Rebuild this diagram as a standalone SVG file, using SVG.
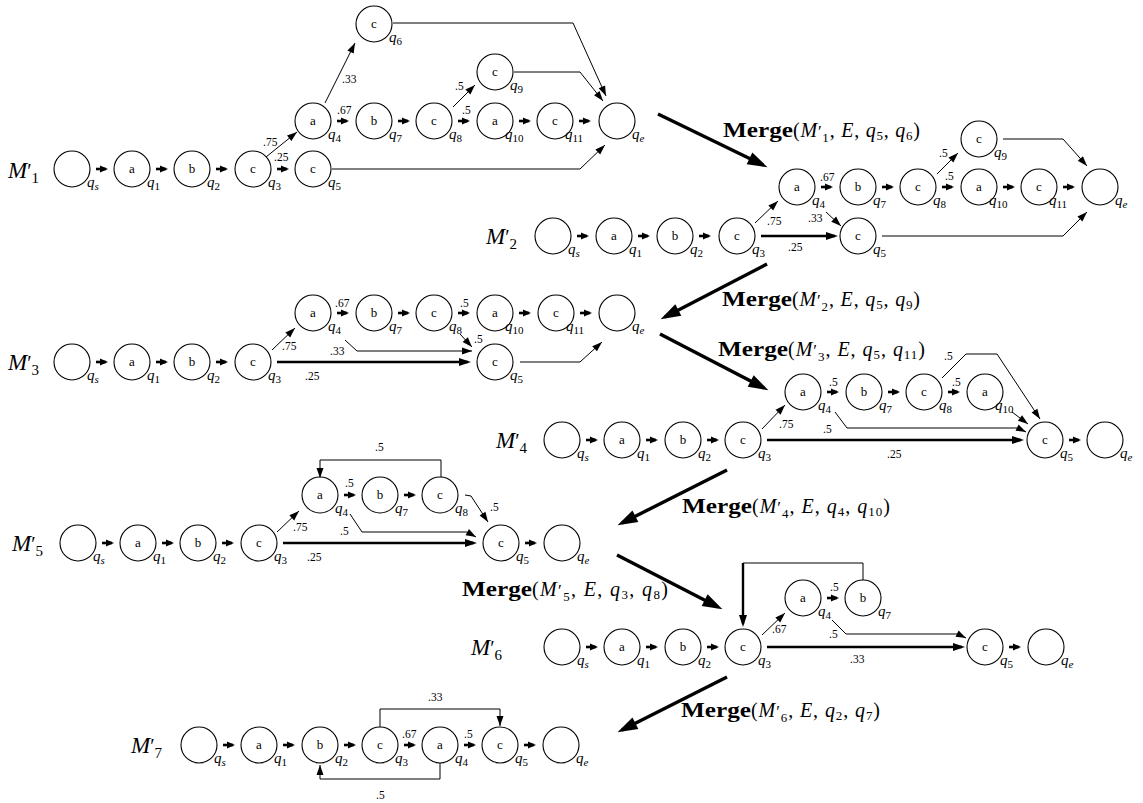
<svg xmlns="http://www.w3.org/2000/svg" xmlns:xlink="http://www.w3.org/1999/xlink" width="1143" height="803" viewBox="0 0 1143 803">
<defs>
<style>
text{font-family:"Liberation Serif","Times New Roman",serif;fill:#000}
.nd circle{fill:#fff;stroke:#000;stroke-width:1.1}
.sym{font-size:13px;text-anchor:middle}
.ql{font-size:15px;font-style:italic}
.qs{font-size:11px;font-style:normal}
.qi{font-size:11px}
.w{font-size:11.5px}
.ml{font-size:23px}
.i{font-style:italic}
.pr{font-size:20px}
.sb{font-size:15px}
.mg{font-size:20px}
.mb{font-weight:bold}
.mpr{font-size:17px}
.msb{font-size:13px}
.e{fill:none;stroke:#000}
.t{stroke-width:1;marker-end:url(#h)}
.s{stroke-width:2.6;marker-end:url(#hs)}
.k{stroke-width:2.4;marker-end:url(#hk)}
.big{stroke-width:3.4;marker-end:url(#hb)}
</style>
<marker id="h" markerUnits="userSpaceOnUse" markerWidth="10" markerHeight="7" refX="10" refY="3.5" orient="auto" overflow="visible"><path d="M0,0 L10,3.5 L0,7 z"/></marker>
<marker id="hs" markerUnits="userSpaceOnUse" markerWidth="8" markerHeight="7" refX="6" refY="3.5" orient="auto" overflow="visible"><path d="M0,0 L8,3.5 L0,7 z"/></marker>
<marker id="hk" markerUnits="userSpaceOnUse" markerWidth="12" markerHeight="8" refX="9" refY="4" orient="auto" overflow="visible"><path d="M0,0 L12,4 L0,8 z"/></marker>
<marker id="hb" markerUnits="userSpaceOnUse" markerWidth="20" markerHeight="13" refX="15" refY="6.5" orient="auto" overflow="visible"><path d="M0,0 L20,6.5 L0,13 z"/></marker>
<!-- short transition between neighbouring states -->
<path id="sa" class="e s" d="M0,0H10"/>
</defs>
<rect width="1143" height="803" fill="#fff"/>

<!-- model labels -->
<g id="model-labels">
<text class="ml" x="8" y="178"><tspan class="i">M</tspan><tspan class="pr">′</tspan><tspan class="sb" dy="5">1</tspan></text>
<text class="ml" x="486" y="244"><tspan class="i">M</tspan><tspan class="pr">′</tspan><tspan class="sb" dy="5">2</tspan></text>
<text class="ml" x="8" y="370"><tspan class="i">M</tspan><tspan class="pr">′</tspan><tspan class="sb" dy="5">3</tspan></text>
<text class="ml" x="496" y="448"><tspan class="i">M</tspan><tspan class="pr">′</tspan><tspan class="sb" dy="5">4</tspan></text>
<text class="ml" x="12" y="551"><tspan class="i">M</tspan><tspan class="pr">′</tspan><tspan class="sb" dy="5">5</tspan></text>
<text class="ml" x="471" y="655"><tspan class="i">M</tspan><tspan class="pr">′</tspan><tspan class="sb" dy="5">6</tspan></text>
<text class="ml" x="131" y="753"><tspan class="i">M</tspan><tspan class="pr">′</tspan><tspan class="sb" dy="5">7</tspan></text>
</g>

<!-- connectors -->
<g id="connectors">
<!-- M1' -->
<use xlink:href="#sa" x="96" y="169"/><use xlink:href="#sa" x="156" y="169"/><use xlink:href="#sa" x="216" y="169"/><use xlink:href="#sa" x="277" y="169"/>
<use xlink:href="#sa" x="337" y="121"/><use xlink:href="#sa" x="398" y="121"/><use xlink:href="#sa" x="458" y="121"/><use xlink:href="#sa" x="519" y="121"/><use xlink:href="#sa" x="579" y="121"/>
<path class="e t" d="M266,157L297,132"/>
<path class="e t" d="M325,103L355,43"/>
<path class="e t" d="M453,107L475,85"/>
<path class="e t" d="M393,23H573L606,96"/>
<path class="e t" d="M514,72H580L603,101"/>
<path class="e t" d="M332,169H580L605,145"/>
<text class="w" x="263" y="146">.75</text>
<text class="w" x="274" y="161">.25</text>
<text class="w" x="342" y="83">.33</text>
<text class="w" x="337" y="114">.67</text>
<text class="w" x="455" y="90">.5</text>
<text class="w" x="462" y="114">.5</text>
<!-- M2' -->
<use xlink:href="#sa" x="577" y="236"/><use xlink:href="#sa" x="638" y="236"/><use xlink:href="#sa" x="699" y="236"/>
<use xlink:href="#sa" x="821" y="187"/><use xlink:href="#sa" x="882" y="187"/><use xlink:href="#sa" x="942" y="187"/><use xlink:href="#sa" x="1003" y="187"/><use xlink:href="#sa" x="1063" y="187"/>
<path class="e k" d="M761,236H835"/>
<path class="e t" d="M755,223L778,201"/>
<path class="e t" d="M826,212L841,226"/>
<path class="e t" d="M937,174L958,153"/>
<path class="e t" d="M1003,139H1063L1087,166"/>
<path class="e t" d="M882,236H1063L1087,212"/>
<text class="w" x="767" y="225">.75</text>
<text class="w" x="788" y="251">.25</text>
<text class="w" x="808" y="222">.33</text>
<text class="w" x="820" y="181">.67</text>
<text class="w" x="939" y="157">.5</text>
<text class="w" x="945" y="180">.5</text>
<!-- M3' -->
<use xlink:href="#sa" x="96" y="362"/><use xlink:href="#sa" x="156" y="362"/><use xlink:href="#sa" x="216" y="362"/>
<use xlink:href="#sa" x="337" y="313"/><use xlink:href="#sa" x="398" y="313"/><use xlink:href="#sa" x="458" y="313"/><use xlink:href="#sa" x="519" y="313"/><use xlink:href="#sa" x="580" y="313"/>
<path class="e t" d="M272,350L295,328"/>
<path class="e k" d="M277,362H468"/>
<path class="e t" d="M345,340L357,351H472"/>
<path class="e t" d="M460,334L472,347"/>
<path class="e t" d="M520,362H580L602,342"/>
<text class="w" x="282" y="350">.75</text>
<text class="w" x="305" y="380">.25</text>
<text class="w" x="330" y="355">.33</text>
<text class="w" x="335" y="307">.67</text>
<text class="w" x="460" y="307">.5</text>
<text class="w" x="474" y="343">.5</text>
<!-- M4' -->
<use xlink:href="#sa" x="586" y="440"/><use xlink:href="#sa" x="646" y="440"/><use xlink:href="#sa" x="707" y="440"/><use xlink:href="#sa" x="1069" y="440"/>
<use xlink:href="#sa" x="827" y="392"/><use xlink:href="#sa" x="888" y="392"/><use xlink:href="#sa" x="948" y="392"/>
<path class="e t" d="M762,429L785,405"/>
<path class="e k" d="M767,440H1021"/>
<path class="e t" d="M835,412L847,428H1018L1026,432"/>
<path class="e t" d="M942,378L966,354H997L1040,419"/>
<path class="e t" d="M1012,412L1028,424"/>
<text class="w" x="779" y="428">.75</text>
<text class="w" x="823" y="433">.5</text>
<text class="w" x="887" y="458">.25</text>
<text class="w" x="829" y="386">.5</text>
<text class="w" x="952" y="386">.5</text>
<text class="w" x="944" y="360">.5</text>
<!-- M5' -->
<use xlink:href="#sa" x="102" y="543"/><use xlink:href="#sa" x="162" y="543"/><use xlink:href="#sa" x="222" y="543"/><use xlink:href="#sa" x="525" y="543"/>
<use xlink:href="#sa" x="344" y="495"/><use xlink:href="#sa" x="404" y="495"/>
<path class="e t" d="M277,532L299,511"/>
<path class="e k" d="M283,543H474"/>
<path class="e t" d="M350,514L362,532H467L476,537"/>
<path class="e t" d="M441,477V460H320V478"/>
<path class="e t" d="M465,495L471,496L488,522"/>
<text class="w" x="293" y="531">.75</text>
<text class="w" x="307" y="561">.25</text>
<text class="w" x="340" y="535">.5</text>
<text class="w" x="345" y="487">.5</text>
<text class="w" x="375" y="451">.5</text>
<text class="w" x="490" y="511">.5</text>
<!-- M6' -->
<use xlink:href="#sa" x="586" y="647"/><use xlink:href="#sa" x="646" y="647"/><use xlink:href="#sa" x="707" y="647"/><use xlink:href="#sa" x="1009" y="647"/>
<use xlink:href="#sa" x="827" y="598"/>
<path class="e t" d="M762,635L785,613"/>
<path class="e k" d="M767,647H962"/>
<path class="e t" d="M832,620L846,634H958L966,638"/>
<path class="e" stroke-width="1" d="M863,580V563H743"/>
<path class="e k" d="M743,563V624"/>
<text class="w" x="772" y="633">.67</text>
<text class="w" x="830" y="591">.5</text>
<text class="w" x="829" y="638">.5</text>
<text class="w" x="850" y="663">.33</text>
<!-- M7' -->
<use xlink:href="#sa" x="223" y="745"/><use xlink:href="#sa" x="283" y="745"/><use xlink:href="#sa" x="344" y="745"/><use xlink:href="#sa" x="404" y="745"/><use xlink:href="#sa" x="464" y="745"/><use xlink:href="#sa" x="524" y="745"/>
<path class="e t" d="M380,727V709H500V726"/>
<path class="e t" d="M440,763V779H320V765"/>
<text class="w" x="428" y="701">.33</text>
<text class="w" x="376" y="799">.5</text>
<text class="w" x="402" y="738">.67</text>
<text class="w" x="464" y="738">.5</text>
</g>

<!-- merge steps -->
<g id="merge-steps">
<path class="e big" d="M658,114L763,165"/>
<path class="e big" d="M767,264L665,317"/>
<path class="e big" d="M660,334L764,388"/>
<path class="e big" d="M727,470L622,523"/>
<path class="e big" d="M617,555L718,607"/>
<path class="e big" d="M727,677L622,730"/>
<text class="mg mb" x="723" y="137" textLength="70" lengthAdjust="spacingAndGlyphs">Merge</text>
<text class="mg" x="793" y="137" textLength="127" lengthAdjust="spacing">(<tspan class="i">M</tspan><tspan class="mpr">′</tspan><tspan class="msb" dy="5">1</tspan><tspan dy="-5">, </tspan><tspan class="i">E</tspan>, <tspan class="i">q</tspan><tspan class="msb" dy="3">5</tspan><tspan dy="-3">, </tspan><tspan class="i">q</tspan><tspan class="msb" dy="3">6</tspan><tspan dy="-3">)</tspan></text>
<text class="mg mb" x="722" y="306" textLength="70" lengthAdjust="spacingAndGlyphs">Merge</text>
<text class="mg" x="792" y="306" textLength="128" lengthAdjust="spacing">(<tspan class="i">M</tspan><tspan class="mpr">′</tspan><tspan class="msb" dy="5">2</tspan><tspan dy="-5">, </tspan><tspan class="i">E</tspan>, <tspan class="i">q</tspan><tspan class="msb" dy="3">5</tspan><tspan dy="-3">, </tspan><tspan class="i">q</tspan><tspan class="msb" dy="3">9</tspan><tspan dy="-3">)</tspan></text>
<text class="mg mb" x="718" y="356" textLength="70" lengthAdjust="spacingAndGlyphs">Merge</text>
<text class="mg" x="788" y="356" textLength="137" lengthAdjust="spacing">(<tspan class="i">M</tspan><tspan class="mpr">′</tspan><tspan class="msb" dy="5">3</tspan><tspan dy="-5">, </tspan><tspan class="i">E</tspan>, <tspan class="i">q</tspan><tspan class="msb" dy="3">5</tspan><tspan dy="-3">, </tspan><tspan class="i">q</tspan><tspan class="msb" dy="3">11</tspan><tspan dy="-3">)</tspan></text>
<text class="mg mb" x="682" y="513" textLength="70" lengthAdjust="spacingAndGlyphs">Merge</text>
<text class="mg" x="752" y="513" textLength="138" lengthAdjust="spacing">(<tspan class="i">M</tspan><tspan class="mpr">′</tspan><tspan class="msb" dy="5">4</tspan><tspan dy="-5">, </tspan><tspan class="i">E</tspan>, <tspan class="i">q</tspan><tspan class="msb" dy="3">4</tspan><tspan dy="-3">, </tspan><tspan class="i">q</tspan><tspan class="msb" dy="3">10</tspan><tspan dy="-3">)</tspan></text>
<text class="mg mb" x="462" y="596" textLength="70" lengthAdjust="spacingAndGlyphs">Merge</text>
<text class="mg" x="532" y="596" textLength="136" lengthAdjust="spacing">(<tspan class="i">M</tspan><tspan class="mpr">′</tspan><tspan class="msb" dy="5">5</tspan><tspan dy="-5">, </tspan><tspan class="i">E</tspan>, <tspan class="i">q</tspan><tspan class="msb" dy="3">3</tspan><tspan dy="-3">, </tspan><tspan class="i">q</tspan><tspan class="msb" dy="3">8</tspan><tspan dy="-3">)</tspan></text>
<text class="mg mb" x="681" y="717" textLength="70" lengthAdjust="spacingAndGlyphs">Merge</text>
<text class="mg" x="751" y="717" textLength="129" lengthAdjust="spacing">(<tspan class="i">M</tspan><tspan class="mpr">′</tspan><tspan class="msb" dy="5">6</tspan><tspan dy="-5">, </tspan><tspan class="i">E</tspan>, <tspan class="i">q</tspan><tspan class="msb" dy="3">2</tspan><tspan dy="-3">, </tspan><tspan class="i">q</tspan><tspan class="msb" dy="3">7</tspan><tspan dy="-3">)</tspan></text>
</g>

<!-- M1' states -->
<g class="nd" id="m1-qs"><circle cx="72" cy="169" r="18"/><text class="ql" x="87" y="187">q<tspan class="qi" dy="3">s</tspan></text></g>
<g class="nd" id="m1-q1"><circle cx="132" cy="169" r="18"/><text class="sym" x="132" y="173">a</text><text class="ql" x="147" y="187">q<tspan class="qs" dy="3">1</tspan></text></g>
<g class="nd" id="m1-q2"><circle cx="192" cy="169" r="18"/><text class="sym" x="192" y="173">b</text><text class="ql" x="207" y="187">q<tspan class="qs" dy="3">2</tspan></text></g>
<g class="nd" id="m1-q3"><circle cx="253" cy="169" r="18"/><text class="sym" x="253" y="173">c</text><text class="ql" x="268" y="187">q<tspan class="qs" dy="3">3</tspan></text></g>
<g class="nd" id="m1-q5"><circle cx="313" cy="169" r="18"/><text class="sym" x="313" y="173">c</text><text class="ql" x="328" y="187">q<tspan class="qs" dy="3">5</tspan></text></g>
<g class="nd" id="m1-q4"><circle cx="313" cy="121" r="18"/><text class="sym" x="313" y="125">a</text><text class="ql" x="328" y="139">q<tspan class="qs" dy="3">4</tspan></text></g>
<g class="nd" id="m1-q7"><circle cx="374" cy="121" r="18"/><text class="sym" x="374" y="125">b</text><text class="ql" x="389" y="139">q<tspan class="qs" dy="3">7</tspan></text></g>
<g class="nd" id="m1-q8"><circle cx="434" cy="121" r="18"/><text class="sym" x="434" y="125">c</text><text class="ql" x="449" y="139">q<tspan class="qs" dy="3">8</tspan></text></g>
<g class="nd" id="m1-q10"><circle cx="495" cy="121" r="18"/><text class="sym" x="495" y="125">a</text><text class="ql" x="505" y="139">q<tspan class="qs" dy="3">10</tspan></text></g>
<g class="nd" id="m1-q11"><circle cx="555" cy="121" r="18"/><text class="sym" x="555" y="125">c</text><text class="ql" x="565" y="139">q<tspan class="qs" dy="3">11</tspan></text></g>
<g class="nd" id="m1-qe"><circle cx="617" cy="121" r="18"/><text class="ql" x="632" y="139">q<tspan class="qi" dy="3">e</tspan></text></g>
<g class="nd" id="m1-q6"><circle cx="374" cy="24" r="18"/><text class="sym" x="374" y="28">c</text><text class="ql" x="389" y="42">q<tspan class="qs" dy="3">6</tspan></text></g>
<g class="nd" id="m1-q9"><circle cx="495" cy="72" r="18"/><text class="sym" x="495" y="76">c</text><text class="ql" x="510" y="90">q<tspan class="qs" dy="3">9</tspan></text></g>

<!-- M2' states -->
<g class="nd" id="m2-qs"><circle cx="553" cy="236" r="18"/><text class="ql" x="568" y="254">q<tspan class="qi" dy="3">s</tspan></text></g>
<g class="nd" id="m2-q1"><circle cx="614" cy="236" r="18"/><text class="sym" x="614" y="240">a</text><text class="ql" x="629" y="254">q<tspan class="qs" dy="3">1</tspan></text></g>
<g class="nd" id="m2-q2"><circle cx="675" cy="236" r="18"/><text class="sym" x="675" y="240">b</text><text class="ql" x="690" y="254">q<tspan class="qs" dy="3">2</tspan></text></g>
<g class="nd" id="m2-q3"><circle cx="737" cy="236" r="18"/><text class="sym" x="737" y="240">c</text><text class="ql" x="752" y="254">q<tspan class="qs" dy="3">3</tspan></text></g>
<g class="nd" id="m2-q5"><circle cx="858" cy="236" r="18"/><text class="sym" x="858" y="240">c</text><text class="ql" x="873" y="254">q<tspan class="qs" dy="3">5</tspan></text></g>
<g class="nd" id="m2-q4"><circle cx="797" cy="187" r="18"/><text class="sym" x="797" y="191">a</text><text class="ql" x="812" y="205">q<tspan class="qs" dy="3">4</tspan></text></g>
<g class="nd" id="m2-q7"><circle cx="858" cy="187" r="18"/><text class="sym" x="858" y="191">b</text><text class="ql" x="873" y="205">q<tspan class="qs" dy="3">7</tspan></text></g>
<g class="nd" id="m2-q8"><circle cx="918" cy="187" r="18"/><text class="sym" x="918" y="191">c</text><text class="ql" x="933" y="205">q<tspan class="qs" dy="3">8</tspan></text></g>
<g class="nd" id="m2-q10"><circle cx="979" cy="187" r="18"/><text class="sym" x="979" y="191">a</text><text class="ql" x="989" y="205">q<tspan class="qs" dy="3">10</tspan></text></g>
<g class="nd" id="m2-q11"><circle cx="1039" cy="187" r="18"/><text class="sym" x="1039" y="191">c</text><text class="ql" x="1049" y="205">q<tspan class="qs" dy="3">11</tspan></text></g>
<g class="nd" id="m2-qe"><circle cx="1100" cy="187" r="18"/><text class="ql" x="1115" y="205">q<tspan class="qi" dy="3">e</tspan></text></g>
<g class="nd" id="m2-q9"><circle cx="979" cy="139" r="18"/><text class="sym" x="979" y="143">c</text><text class="ql" x="994" y="157">q<tspan class="qs" dy="3">9</tspan></text></g>

<!-- M3' states -->
<g class="nd" id="m3-qs"><circle cx="72" cy="362" r="18"/><text class="ql" x="87" y="380">q<tspan class="qi" dy="3">s</tspan></text></g>
<g class="nd" id="m3-q1"><circle cx="132" cy="362" r="18"/><text class="sym" x="132" y="366">a</text><text class="ql" x="147" y="380">q<tspan class="qs" dy="3">1</tspan></text></g>
<g class="nd" id="m3-q2"><circle cx="192" cy="362" r="18"/><text class="sym" x="192" y="366">b</text><text class="ql" x="207" y="380">q<tspan class="qs" dy="3">2</tspan></text></g>
<g class="nd" id="m3-q3"><circle cx="253" cy="362" r="18"/><text class="sym" x="253" y="366">c</text><text class="ql" x="268" y="380">q<tspan class="qs" dy="3">3</tspan></text></g>
<g class="nd" id="m3-q5"><circle cx="495" cy="362" r="18"/><text class="sym" x="495" y="366">c</text><text class="ql" x="510" y="380">q<tspan class="qs" dy="3">5</tspan></text></g>
<g class="nd" id="m3-q4"><circle cx="313" cy="313" r="18"/><text class="sym" x="313" y="317">a</text><text class="ql" x="328" y="331">q<tspan class="qs" dy="3">4</tspan></text></g>
<g class="nd" id="m3-q7"><circle cx="374" cy="313" r="18"/><text class="sym" x="374" y="317">b</text><text class="ql" x="389" y="331">q<tspan class="qs" dy="3">7</tspan></text></g>
<g class="nd" id="m3-q8"><circle cx="434" cy="313" r="18"/><text class="sym" x="434" y="317">c</text><text class="ql" x="449" y="331">q<tspan class="qs" dy="3">8</tspan></text></g>
<g class="nd" id="m3-q10"><circle cx="495" cy="313" r="18"/><text class="sym" x="495" y="317">a</text><text class="ql" x="505" y="331">q<tspan class="qs" dy="3">10</tspan></text></g>
<g class="nd" id="m3-q11"><circle cx="556" cy="313" r="18"/><text class="sym" x="556" y="317">c</text><text class="ql" x="566" y="331">q<tspan class="qs" dy="3">11</tspan></text></g>
<g class="nd" id="m3-qe"><circle cx="617" cy="313" r="18"/><text class="ql" x="632" y="331">q<tspan class="qi" dy="3">e</tspan></text></g>

<!-- M4' states -->
<g class="nd" id="m4-qs"><circle cx="562" cy="440" r="18"/><text class="ql" x="577" y="458">q<tspan class="qi" dy="3">s</tspan></text></g>
<g class="nd" id="m4-q1"><circle cx="622" cy="440" r="18"/><text class="sym" x="622" y="444">a</text><text class="ql" x="637" y="458">q<tspan class="qs" dy="3">1</tspan></text></g>
<g class="nd" id="m4-q2"><circle cx="683" cy="440" r="18"/><text class="sym" x="683" y="444">b</text><text class="ql" x="698" y="458">q<tspan class="qs" dy="3">2</tspan></text></g>
<g class="nd" id="m4-q3"><circle cx="743" cy="440" r="18"/><text class="sym" x="743" y="444">c</text><text class="ql" x="758" y="458">q<tspan class="qs" dy="3">3</tspan></text></g>
<g class="nd" id="m4-q5"><circle cx="1045" cy="440" r="18"/><text class="sym" x="1045" y="444">c</text><text class="ql" x="1060" y="458">q<tspan class="qs" dy="3">5</tspan></text></g>
<g class="nd" id="m4-qe"><circle cx="1105" cy="440" r="18"/><text class="ql" x="1120" y="458">q<tspan class="qi" dy="3">e</tspan></text></g>
<g class="nd" id="m4-q4"><circle cx="803" cy="392" r="18"/><text class="sym" x="803" y="396">a</text><text class="ql" x="818" y="410">q<tspan class="qs" dy="3">4</tspan></text></g>
<g class="nd" id="m4-q7"><circle cx="864" cy="392" r="18"/><text class="sym" x="864" y="396">b</text><text class="ql" x="879" y="410">q<tspan class="qs" dy="3">7</tspan></text></g>
<g class="nd" id="m4-q8"><circle cx="924" cy="392" r="18"/><text class="sym" x="924" y="396">c</text><text class="ql" x="939" y="410">q<tspan class="qs" dy="3">8</tspan></text></g>
<g class="nd" id="m4-q10"><circle cx="985" cy="392" r="18"/><text class="sym" x="985" y="396">a</text><text class="ql" x="995" y="410">q<tspan class="qs" dy="3">10</tspan></text></g>

<!-- M5' states -->
<g class="nd" id="m5-qs"><circle cx="78" cy="543" r="18"/><text class="ql" x="93" y="561">q<tspan class="qi" dy="3">s</tspan></text></g>
<g class="nd" id="m5-q1"><circle cx="138" cy="543" r="18"/><text class="sym" x="138" y="547">a</text><text class="ql" x="153" y="561">q<tspan class="qs" dy="3">1</tspan></text></g>
<g class="nd" id="m5-q2"><circle cx="198" cy="543" r="18"/><text class="sym" x="198" y="547">b</text><text class="ql" x="213" y="561">q<tspan class="qs" dy="3">2</tspan></text></g>
<g class="nd" id="m5-q3"><circle cx="259" cy="543" r="18"/><text class="sym" x="259" y="547">c</text><text class="ql" x="274" y="561">q<tspan class="qs" dy="3">3</tspan></text></g>
<g class="nd" id="m5-q4"><circle cx="320" cy="495" r="18"/><text class="sym" x="320" y="499">a</text><text class="ql" x="335" y="513">q<tspan class="qs" dy="3">4</tspan></text></g>
<g class="nd" id="m5-q7"><circle cx="380" cy="495" r="18"/><text class="sym" x="380" y="499">b</text><text class="ql" x="395" y="513">q<tspan class="qs" dy="3">7</tspan></text></g>
<g class="nd" id="m5-q8"><circle cx="440" cy="495" r="18"/><text class="sym" x="440" y="499">c</text><text class="ql" x="455" y="513">q<tspan class="qs" dy="3">8</tspan></text></g>
<g class="nd" id="m5-q5"><circle cx="501" cy="543" r="18"/><text class="sym" x="501" y="547">c</text><text class="ql" x="516" y="561">q<tspan class="qs" dy="3">5</tspan></text></g>
<g class="nd" id="m5-qe"><circle cx="562" cy="543" r="18"/><text class="ql" x="577" y="561">q<tspan class="qi" dy="3">e</tspan></text></g>

<!-- M6' states -->
<g class="nd" id="m6-qs"><circle cx="562" cy="647" r="18"/><text class="ql" x="577" y="665">q<tspan class="qi" dy="3">s</tspan></text></g>
<g class="nd" id="m6-q1"><circle cx="622" cy="647" r="18"/><text class="sym" x="622" y="651">a</text><text class="ql" x="637" y="665">q<tspan class="qs" dy="3">1</tspan></text></g>
<g class="nd" id="m6-q2"><circle cx="683" cy="647" r="18"/><text class="sym" x="683" y="651">b</text><text class="ql" x="698" y="665">q<tspan class="qs" dy="3">2</tspan></text></g>
<g class="nd" id="m6-q3"><circle cx="743" cy="647" r="18"/><text class="sym" x="743" y="651">c</text><text class="ql" x="758" y="665">q<tspan class="qs" dy="3">3</tspan></text></g>
<g class="nd" id="m6-q4"><circle cx="803" cy="598" r="18"/><text class="sym" x="803" y="602">a</text><text class="ql" x="818" y="616">q<tspan class="qs" dy="3">4</tspan></text></g>
<g class="nd" id="m6-q7"><circle cx="863" cy="598" r="18"/><text class="sym" x="863" y="602">b</text><text class="ql" x="878" y="616">q<tspan class="qs" dy="3">7</tspan></text></g>
<g class="nd" id="m6-q5"><circle cx="985" cy="647" r="18"/><text class="sym" x="985" y="651">c</text><text class="ql" x="1000" y="665">q<tspan class="qs" dy="3">5</tspan></text></g>
<g class="nd" id="m6-qe"><circle cx="1046" cy="647" r="18"/><text class="ql" x="1061" y="665">q<tspan class="qi" dy="3">e</tspan></text></g>

<!-- M7' states -->
<g class="nd" id="m7-qs"><circle cx="199" cy="745" r="18"/><text class="ql" x="214" y="763">q<tspan class="qi" dy="3">s</tspan></text></g>
<g class="nd" id="m7-q1"><circle cx="259" cy="745" r="18"/><text class="sym" x="259" y="749">a</text><text class="ql" x="274" y="763">q<tspan class="qs" dy="3">1</tspan></text></g>
<g class="nd" id="m7-q2"><circle cx="320" cy="745" r="18"/><text class="sym" x="320" y="749">b</text><text class="ql" x="335" y="763">q<tspan class="qs" dy="3">2</tspan></text></g>
<g class="nd" id="m7-q3"><circle cx="380" cy="745" r="18"/><text class="sym" x="380" y="749">c</text><text class="ql" x="395" y="763">q<tspan class="qs" dy="3">3</tspan></text></g>
<g class="nd" id="m7-q4"><circle cx="440" cy="745" r="18"/><text class="sym" x="440" y="749">a</text><text class="ql" x="455" y="763">q<tspan class="qs" dy="3">4</tspan></text></g>
<g class="nd" id="m7-q5"><circle cx="500" cy="745" r="18"/><text class="sym" x="500" y="749">c</text><text class="ql" x="515" y="763">q<tspan class="qs" dy="3">5</tspan></text></g>
<g class="nd" id="m7-qe"><circle cx="561" cy="745" r="18"/><text class="ql" x="576" y="763">q<tspan class="qi" dy="3">e</tspan></text></g>
</svg>
